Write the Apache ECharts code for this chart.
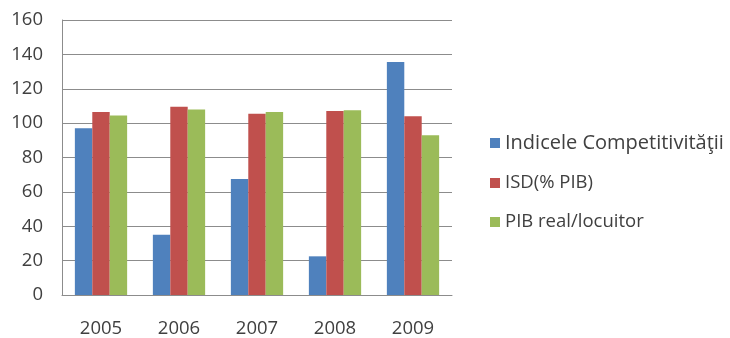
<!DOCTYPE html>
<html>
<head>
<meta charset="utf-8">
<script src="https://cdn.jsdelivr.net/npm/echarts@6/dist/echarts.min.js"></script>
<style>
  html, body { margin: 0; padding: 0; background: #fff; }
  #chart { width: 730px; height: 338px; }
</style>
</head>
<body>
<div id="chart"></div>
<script>
// Years on the category axis
const years = ['2005', '2006', '2007', '2008', '2009'];

// Series values per year
const competitivitate = [97, 35, 67.5, 22.5, 135.5];
const isd = [106.5, 109.5, 105.5, 107, 104];
const pibReal = [104.5, 108, 106.5, 107.5, 93];

// Value axis range and step
const yMin = 0;
const yMax = 160;
const yStep = 20;

const seriesNames = ['Indicele Competitivităţii', 'ISD(% PIB)', 'PIB real/locuitor'];
const seriesColors = ['#4F81BD', '#C0504D', '#9BBB59'];
const seriesData = [competitivitate, isd, pibReal];

const chart = echarts.init(document.getElementById('chart'), null, { renderer: 'canvas' });

const textColor = '#404040';
const fontFamily = '"Open Sans", "DejaVu Sans", sans-serif';

// One legend block per series, stacked down the right side
const legendTops = [133, 173, 212];
const legendFontSizes = [20, 18.5, 18.5];
const legends = seriesNames.map((name, i) => ({
  orient: 'vertical',
  left: 490,
  top: legendTops[i],
  padding: 0,
  itemWidth: 10,
  itemHeight: 10,
  itemGap: 0,
  icon: 'rect',
  textStyle: {
    color: textColor,
    fontSize: legendFontSizes[i],
    lineHeight: 20,
    fontFamily: fontFamily
  },
  data: [name]
}));

chart.setOption({
  animation: false,
  backgroundColor: '#ffffff',
  textStyle: { fontFamily: fontFamily },
  grid: { left: 62, right: 278, top: 20, bottom: 43, containLabel: false },
  legend: legends,
  xAxis: {
    type: 'category',
    data: years,
    axisLine: { show: true, lineStyle: { color: '#8c8c8c', width: 1 } },
    axisTick: { show: false },
    axisLabel: { color: textColor, fontSize: 18.5, margin: 24 }
  },
  yAxis: {
    type: 'value',
    min: yMin,
    max: yMax,
    interval: yStep,
    axisLine: { show: true, lineStyle: { color: '#8c8c8c', width: 1 } },
    axisTick: { show: false },
    axisLabel: { color: textColor, fontSize: 18.5, margin: 19 },
    splitLine: { show: true, lineStyle: { color: '#8c8c8c', width: 1 } }
  },
  series: seriesNames.map((name, i) => ({
    name: name,
    type: 'bar',
    data: seriesData[i],
    barGap: '0%',
    barCategoryGap: '33%',
    itemStyle: { color: seriesColors[i] }
  }))
});
</script>
</body>
</html>
